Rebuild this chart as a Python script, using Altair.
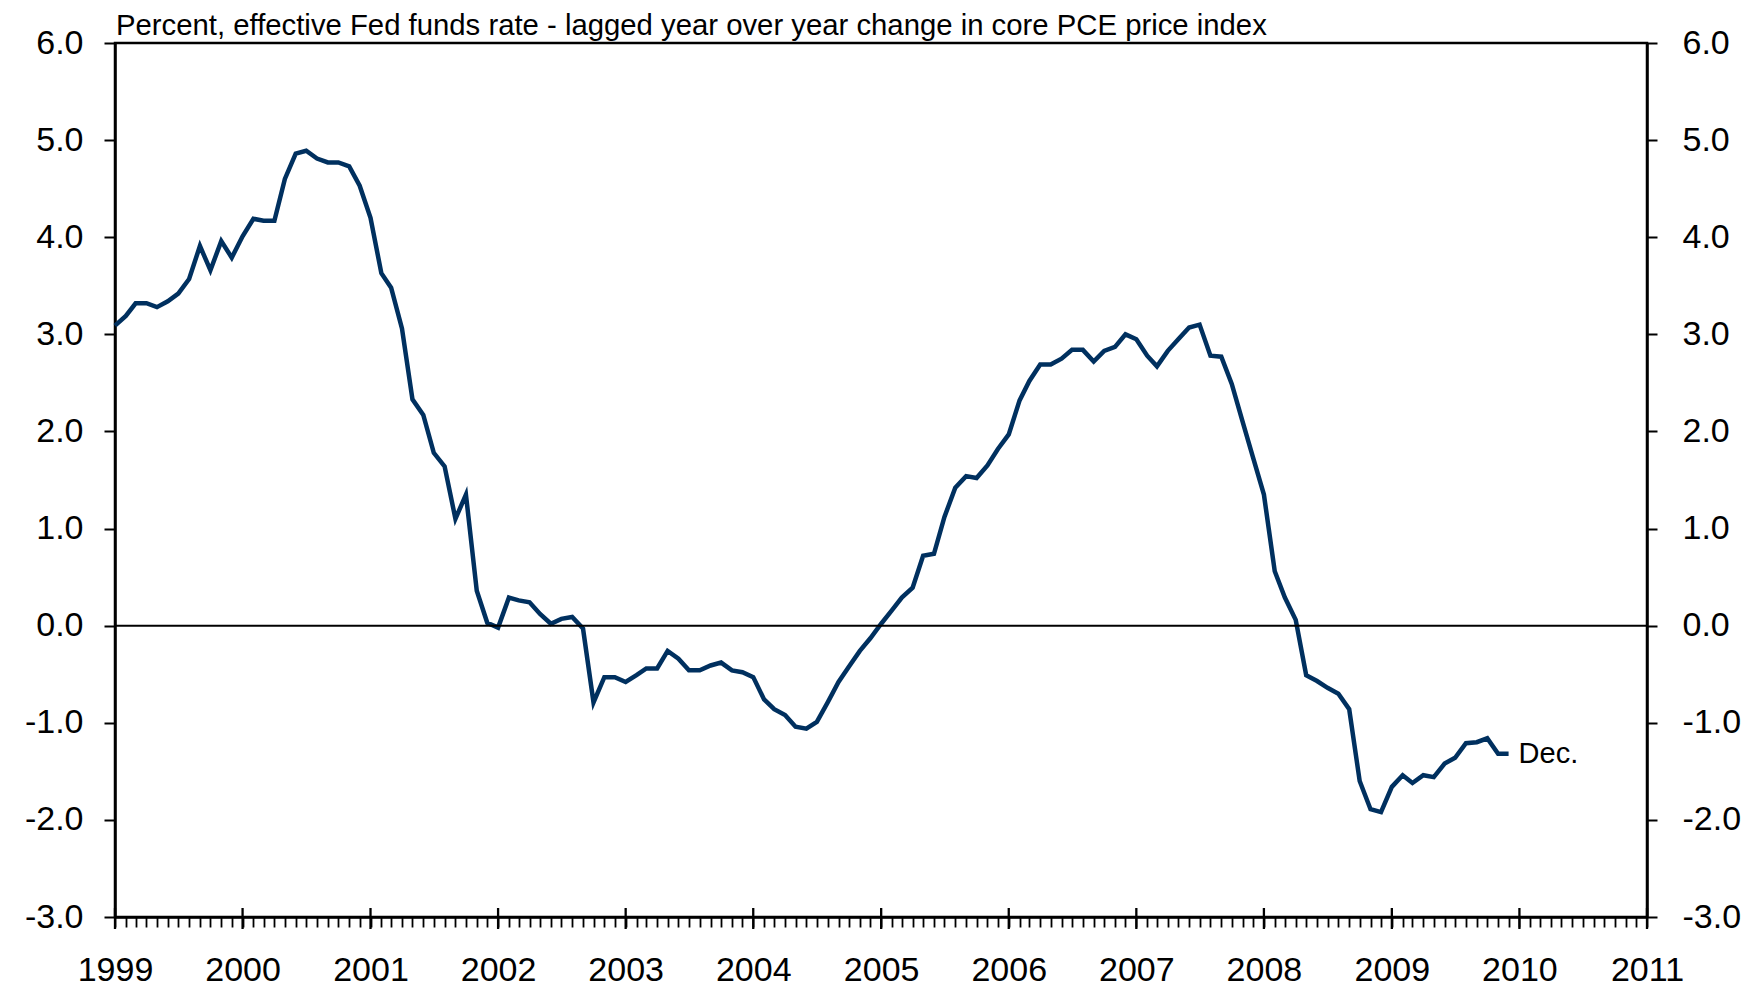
import altair as alt
import pandas as pd

# Monthly values, Jan 1999 .. Dec 2009 (percent)
values = [
    3.09, 3.19, 3.32, 3.32, 3.28, 3.34, 3.42, 3.57, 3.91, 3.66, 3.96, 3.79,   # 1999
    4.01, 4.19, 4.17, 4.17, 4.60, 4.86, 4.89, 4.81, 4.77, 4.77, 4.73, 4.53,   # 2000
    4.20, 3.63, 3.48, 3.06, 2.33, 2.17, 1.78, 1.64, 1.10, 1.35, 0.36, 0.03,   # 2001
    -0.02, 0.29, 0.26, 0.24, 0.12, 0.02, 0.07, 0.09, -0.03, -0.79, -0.53, -0.53,  # 2002
    -0.58, -0.51, -0.44, -0.44, -0.26, -0.34, -0.46, -0.46, -0.41, -0.38, -0.46, -0.48,  # 2003
    -0.53, -0.76, -0.86, -0.92, -1.04, -1.06, -0.99, -0.79, -0.58, -0.42, -0.26, -0.13,  # 2004
    0.02, 0.16, 0.29, 0.39, 0.72, 0.74, 1.12, 1.42, 1.54, 1.52, 1.65, 1.82,   # 2005
    1.97, 2.32, 2.52, 2.69, 2.69, 2.75, 2.84, 2.84, 2.72, 2.83, 2.87, 3.00,   # 2006
    2.95, 2.78, 2.67, 2.83, 2.95, 3.07, 3.10, 2.78, 2.77, 2.49, 2.10, 1.73,   # 2007
    1.35, 0.56, 0.29, 0.06, -0.51, -0.57, -0.64, -0.70, -0.86, -1.60, -1.89, -1.92,  # 2008
    -1.66, -1.54, -1.62, -1.54, -1.56, -1.42, -1.36, -1.21, -1.20, -1.16, -1.32, -1.32,  # 2009
]
dates = pd.date_range("1999-01-01", periods=len(values), freq="MS")
year_ticks = pd.to_datetime([f"{y}-01-01" for y in range(1999, 2012)])
y_ticks = [-3, -2, -1, 0, 1, 2, 3, 4, 5, 6]
title_text = "Percent, effective Fed funds rate - lagged year over year change in core PCE price index"
end_label = "Dec."

LINE_COLOR = "#00305F"
FONT = "Liberation Sans"
Y_LABEL_EXPR = "(datum.value < 0 ? '-' : '') + format(abs(datum.value), '.1f')"

df = pd.DataFrame({"date": dates, "value": values})
df_end = pd.DataFrame({"date": [dates[-1]], "value": [values[-1]], "label": [end_label]})
df_years = pd.DataFrame({"date": year_ticks})
df_zero = pd.DataFrame({"y": [0]})
df_title = pd.DataFrame({"t": [title_text]})

x_scale = alt.Scale(domain=[alt.DateTime(year=1999, month=1, date=1),
                            alt.DateTime(year=2011, month=1, date=1)])
y_scale = alt.Scale(domain=[-3, 6], nice=False, zero=False)

x_axis = alt.Axis(
    title=None, grid=False,
    tickCount=alt.TimeIntervalStep(interval="month", step=1),
    labelExpr="month(datum.value) == 0 ? timeFormat(datum.value, '%Y') : ''",
    labelOverlap=False, labelFlush=False, labelBound=False,
    tickSize=10, tickWidth=1.8, tickColor="black",
    domainColor="black", domainWidth=2.5,
    labelFontSize=34, labelFont=FONT, labelColor="black", labelPadding=26,
)

y_axis_left = alt.Axis(
    title=None, grid=False, values=y_ticks, labelExpr=Y_LABEL_EXPR, orient="left",
    tickSize=11, tickWidth=2, tickColor="black",
    domainColor="black", domainWidth=2.5,
    labelFontSize=34, labelFont=FONT, labelColor="black", labelPadding=21,
)
y_axis_right = alt.Axis(
    title=None, grid=False, values=y_ticks, labelExpr=Y_LABEL_EXPR, orient="right",
    tickSize=10, tickWidth=2, tickColor="black",
    domainColor="black", domainWidth=2.5,
    labelFontSize=34, labelFont=FONT, labelColor="black", labelPadding=25,
)

line = alt.Chart(df).mark_line(color=LINE_COLOR, strokeWidth=4.5).encode(
    x=alt.X("date:T", scale=x_scale, axis=x_axis),
    y=alt.Y("value:Q", scale=y_scale, axis=y_axis_left),
)

end_text = alt.Chart(df_end).mark_text(
    align="left", baseline="middle", dx=10, fontSize=29, font=FONT, color="black"
).encode(
    x=alt.X("date:T", scale=x_scale),
    y=alt.Y("value:Q", scale=y_scale),
    text="label:N",
)

year_rules = alt.Chart(df_years).mark_rule(color="black", strokeWidth=2.3).encode(
    x=alt.X("date:T", scale=x_scale),
    y=alt.value(865),
    y2=alt.value(886),
)

title_mark = alt.Chart(df_title).mark_text(
    align="left", baseline="alphabetic", fontSize=29.3, font=FONT, color="black"
).encode(
    x=alt.value(1),
    y=alt.value(-8),
    text="t:N",
)

left_part = alt.layer(line, end_text, year_rules, title_mark)

zero_rule = alt.Chart(df_zero).mark_rule(color="black", strokeWidth=2).encode(
    y=alt.Y("y:Q", scale=y_scale, axis=y_axis_right),
)

chart = alt.layer(left_part, zero_rule).resolve_scale(y="independent").properties(
    width=1532, height=874,
    background="white",
    autosize=alt.AutoSizeParams(type="none"),
    padding={"left": 107, "top": 35, "right": 95, "bottom": 70},
).configure_view(stroke="black", strokeWidth=2.5)

chart.save("out.html", embed_options={"renderer": "svg", "actions": False})
